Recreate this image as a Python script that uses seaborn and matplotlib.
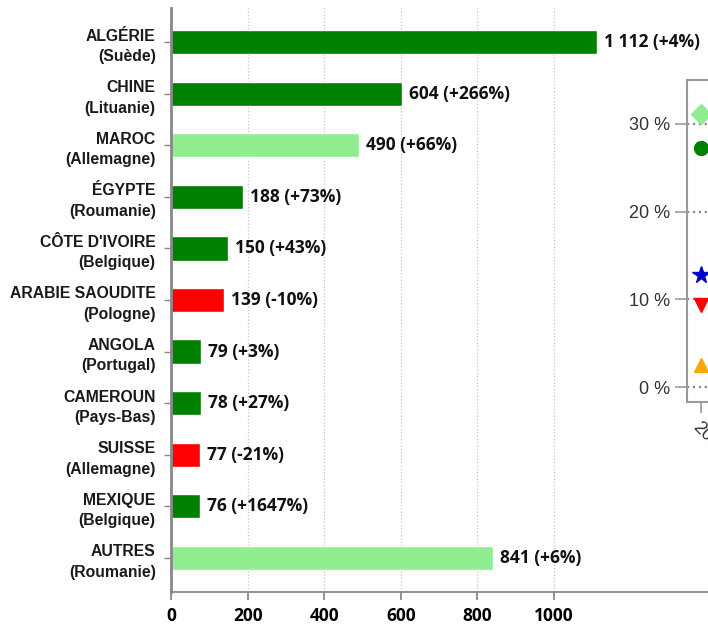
import matplotlib
matplotlib.use("Agg")
import matplotlib.pyplot as plt
from matplotlib.container import BarContainer
import seaborn as sns
import pandas as pd

# ---- data ----
countries = ['ALGÉRIE', 'CHINE', 'MAROC', 'ÉGYPTE', "CÔTE D'IVOIRE", 'ARABIE SAOUDITE',
             'ANGOLA', 'CAMEROUN', 'SUISSE', 'MEXIQUE', 'AUTRES']
partners = ['Suède', 'Lituanie', 'Allemagne', 'Roumanie', 'Belgique', 'Pologne',
            'Portugal', 'Pays-Bas', 'Allemagne', 'Belgique', 'Roumanie']
values = [1112, 604, 490, 188, 150, 139, 79, 78, 77, 76, 841]
changes = ['+4%', '+266%', '+66%', '+73%', '+43%', '-10%', '+3%', '+27%', '-21%', '+1647%', '+6%']
bar_colors = ['#008000', '#008000', '#90EE90', '#008000', '#008000', '#FF0000',
              '#008000', '#008000', '#FF0000', '#008000', '#90EE90']
x_ticks = [0, 200, 400, 600, 800, 1000]

inset_year = ['2023']
inset_values = [31.1, 27.3, 12.8, 9.3, 2.5]
inset_markers = ['D', 'o', '*', 'v', '^']
inset_colors = ['#90EE90', '#008000', '#0000CD', '#FF0000', '#FFA500']
inset_sizes = [10, 10, 13, 10, 10]
inset_yticks = [0, 10, 20, 30]

sns.set_theme(style='white')
plt.rcParams['font.family'] = ['Liberation Sans', 'DejaVu Sans']

labels = [f"{c}\n({p})" for c, p in zip(countries, partners)]
df = pd.DataFrame({'label': labels, 'value': values})

W, H = 708, 624
fig = plt.figure(figsize=(W / 100, H / 100), dpi=100)

# main axes: left spine at x=171, top 8, bottom 592; extends past right edge
left, top, bottom = 171, 8, 592
xscale = (554 - 171) / 1000.0
right_px = 171 + 1500 * xscale
ax = fig.add_axes([left / W, 1 - bottom / H, (right_px - left) / W, (bottom - top) / H])

sns.barplot(data=df, x='value', y='label', hue='label', palette=bar_colors,
            legend=False, orient='h', width=0.47, ax=ax, saturation=1)
ax.set_xlim(0, 1500)
ax.set_ylim(10.66, -0.66)
ax.set_xticks(x_ticks)
ax.set_xticklabels([str(t) for t in x_ticks], fontfamily='Open Sans',
                   fontweight='bold', fontsize=12.5, color='black')
ax.set_yticks(range(len(labels)))
ax.set_yticklabels(labels, fontweight='bold', fontsize=11.3, color='#1a1a1a',
                   linespacing=1.45)
ax.set_xlabel('')
ax.set_ylabel('')
ax.xaxis.grid(True, linestyle=':', color='#c4c4c4', linewidth=0.9)
ax.yaxis.grid(False)
ax.set_axisbelow(True)
for s in ['top', 'right']:
    ax.spines[s].set_visible(False)
ax.spines['left'].set_color('#888888')
ax.spines['left'].set_linewidth(2)
ax.spines['bottom'].set_color('#888888')
ax.spines['bottom'].set_linewidth(1.3)
ax.tick_params(axis='x', which='major', length=6, color='#888888', width=1.3,
               direction='out', bottom=True, pad=5)
ax.tick_params(axis='y', which='major', length=5, color='#888888', width=1,
               direction='out', left=True, pad=6)


def fmt(v):
    return f"{v:,}".replace(',', ' ')


bar_texts = [f"{fmt(v)} ({c})" for v, c in zip(values, changes)]
bars = sorted([p for p in ax.patches if p.get_width() > 0],
              key=lambda p: p.get_y() + p.get_height() / 2)
container = BarContainer(bars, datavalues=[p.get_width() for p in bars],
                         orientation='horizontal')
ax.bar_label(container, labels=bar_texts, padding=5,
             fontfamily='Open Sans', fontweight='bold', fontsize=12.5, color='#111111')

# inset axes
i_left, i_top, i_bottom = 687, 80, 402
i_w = 294
iax = fig.add_axes([i_left / W, 1 - i_bottom / H, i_w / W, (i_bottom - i_top) / H])
iax.set_facecolor('white')
for val, m, col, ms in zip(inset_values, inset_markers, inset_colors, inset_sizes):
    iax.plot([0], [val], marker=m, color=col, markersize=ms, linestyle='none')
iax.set_xlim(-0.1, 2.0)
iax.set_ylim(-1.7, 35.0)
iax.set_yticks(inset_yticks)
iax.set_yticklabels([f"{t} %" for t in inset_yticks], fontsize=13, color='#333333')
iax.set_xticks([0])
iax.set_xticklabels(inset_year, rotation=-45, ha='left', rotation_mode='anchor',
                    fontsize=13, color='#333333')
iax.yaxis.grid(True, linestyle=':', color='#888888', linewidth=1.6)
iax.xaxis.grid(False)
for s in iax.spines.values():
    s.set_color('#999999')
    s.set_linewidth(1.5)
iax.tick_params(axis='y', length=9, color='#999999', width=1.2, direction='out', left=True, pad=3)
iax.tick_params(axis='x', length=8, color='#999999', width=1.2, direction='out', bottom=True, pad=4)

fig.savefig('out.png', dpi=100)
